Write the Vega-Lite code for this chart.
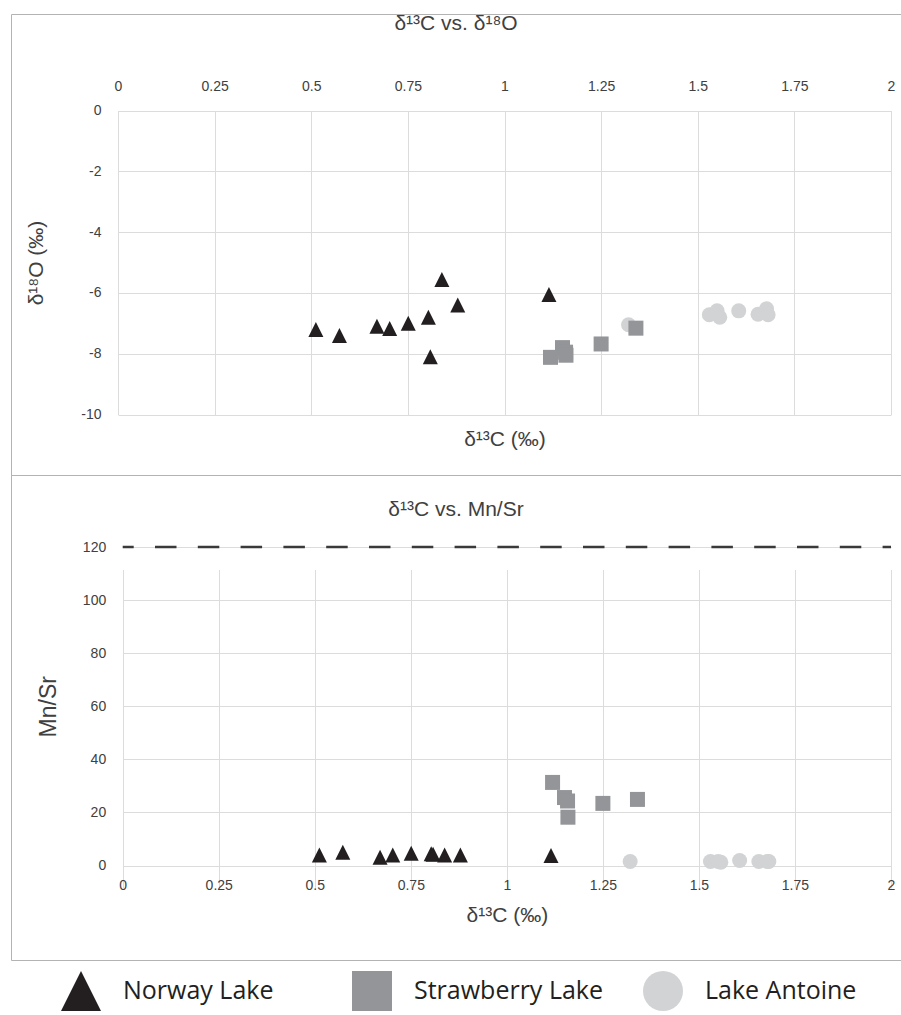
{
  "$schema": "https://vega.github.io/schema/vega-lite/v6.json",
  "padding": {"left": 10, "top": 12, "right": 0, "bottom": 4},
  "background": "white",
  "datasets": {
    "samples": [
      {"lake": "Norway Lake", "d13C": 0.512, "d18O": -7.2, "mnsr": 4.0},
      {"lake": "Norway Lake", "d13C": 0.573, "d18O": -7.4, "mnsr": 5.0},
      {"lake": "Norway Lake", "d13C": 0.670, "d18O": -7.1, "mnsr": 3.1},
      {"lake": "Norway Lake", "d13C": 0.703, "d18O": -7.17, "mnsr": 4.0},
      {"lake": "Norway Lake", "d13C": 0.751, "d18O": -7.0, "mnsr": 4.6},
      {"lake": "Norway Lake", "d13C": 0.803, "d18O": -6.8, "mnsr": 4.4},
      {"lake": "Norway Lake", "d13C": 0.808, "d18O": -8.1, "mnsr": 4.2},
      {"lake": "Norway Lake", "d13C": 0.838, "d18O": -5.56, "mnsr": 4.0},
      {"lake": "Norway Lake", "d13C": 0.879, "d18O": -6.4, "mnsr": 4.0},
      {"lake": "Norway Lake", "d13C": 1.115, "d18O": -6.05, "mnsr": 3.8},
      {"lake": "Lake Antoine", "d13C": 1.321, "d18O": -7.05, "mnsr": 1.5},
      {"lake": "Lake Antoine", "d13C": 1.530, "d18O": -6.72, "mnsr": 1.5},
      {"lake": "Lake Antoine", "d13C": 1.550, "d18O": -6.59, "mnsr": 1.5},
      {"lake": "Lake Antoine", "d13C": 1.557, "d18O": -6.80, "mnsr": 1.2},
      {"lake": "Lake Antoine", "d13C": 1.606, "d18O": -6.59, "mnsr": 1.9},
      {"lake": "Lake Antoine", "d13C": 1.656, "d18O": -6.70, "mnsr": 1.5},
      {"lake": "Lake Antoine", "d13C": 1.678, "d18O": -6.52, "mnsr": 1.5},
      {"lake": "Lake Antoine", "d13C": 1.682, "d18O": -6.72, "mnsr": 1.5},
      {"lake": "Strawberry Lake", "d13C": 1.119, "d18O": -8.12, "mnsr": 31.3},
      {"lake": "Strawberry Lake", "d13C": 1.150, "d18O": -7.8, "mnsr": 25.6},
      {"lake": "Strawberry Lake", "d13C": 1.158, "d18O": -7.95, "mnsr": 24.3},
      {"lake": "Strawberry Lake", "d13C": 1.159, "d18O": -8.05, "mnsr": 18.2},
      {"lake": "Strawberry Lake", "d13C": 1.250, "d18O": -7.68, "mnsr": 23.4},
      {"lake": "Strawberry Lake", "d13C": 1.340, "d18O": -7.16, "mnsr": 24.9}
    ],
    "limit": [{"threshold": 120, "from": 0, "to": 2}]
  },
  "vconcat": [
    {
      "width": 890,
      "height": 461,
      "data": {"name": "samples"},
      "title": {"text": "δ¹³C vs. δ¹⁸O", "offset": -31, "baseline": "middle"},
      "mark": {"type": "point", "filled": true, "opacity": 1, "size": 225, "strokeWidth": 0},
      "encoding": {
        "x": {
          "field": "d13C", "type": "quantitative",
          "scale": {"domain": [0, 2], "range": [107, 880], "nice": false, "zero": false},
          "axis": {"orient": "top", "offset": -96.5, "values": [0, 0.25, 0.5, 0.75, 1, 1.25, 1.5, 1.75, 2],
                   "labelExpr": "datum.value + ''", "labelPadding": 17,
                   "title": "δ¹³C (‰)", "titleY": 328.5, "titleBaseline": "middle"}
        },
        "y": {
          "field": "d18O", "type": "quantitative",
          "scale": {"domain": [-10, 0], "range": [400.5, 96.5], "nice": false, "zero": false},
          "axis": {"offset": -107, "values": [-10, -8, -6, -4, -2, 0],
                   "labelExpr": "datum.value + ''", "labelPadding": 17,
                   "title": "δ¹⁸O (‰)", "titlePadding": 34}
        },
        "color": {
          "field": "lake", "type": "nominal",
          "scale": {"domain": ["Norway Lake", "Strawberry Lake", "Lake Antoine"], "range": ["#231f20", "#939598", "#d1d3d4"]},
          "legend": {"orient": "none", "legendX": 50, "legendY": 957, "direction": "horizontal", "columns": 3, "title": null}
        },
        "shape": {
          "field": "lake", "type": "nominal",
          "scale": {"domain": ["Norway Lake", "Strawberry Lake", "Lake Antoine"], "range": ["M0,-1L1,1L-1,1Z", "square", "circle"]},
          "legend": {"orient": "none", "legendX": 50, "legendY": 957, "direction": "horizontal", "columns": 3, "title": null}
        }
      }
    },
    {
      "width": 890,
      "height": 485,
      "title": {"text": "δ¹³C vs. Mn/Sr", "offset": -56, "baseline": "middle"},
      "layer": [
        {
          "data": {"name": "samples"},
          "mark": {"type": "point", "filled": true, "opacity": 1, "size": 225, "strokeWidth": 0},
          "encoding": {
            "x": {
              "field": "d13C", "type": "quantitative",
              "scale": {"domain": [0, 2], "range": [111.7, 880], "nice": false, "zero": false},
              "axis": {"orient": "bottom", "offset": -94.5, "values": [0, 0.25, 0.5, 0.75, 1, 1.25, 1.5, 1.75, 2],
                       "labelExpr": "datum.value + ''", "labelPadding": 13,
                       "title": "δ¹³C (‰)", "titlePadding": 12}
            },
            "y": {
              "field": "mnsr", "type": "quantitative",
              "scale": {"domain": [0, 120], "range": [390.5, 72], "nice": false, "zero": false},
              "axis": {"offset": -111.7, "values": [0, 20, 40, 60, 80, 100, 120],
                       "labelExpr": "datum.value + ''", "labelPadding": 17,
                       "title": "Mn/Sr", "titlePadding": 22, "titleFontSize": 23}
            },
            "color": {
              "field": "lake", "type": "nominal",
              "scale": {"domain": ["Norway Lake", "Strawberry Lake", "Lake Antoine"], "range": ["#231f20", "#939598", "#d1d3d4"]},
              "legend": {"orient": "none", "legendX": 50, "legendY": 957, "direction": "horizontal", "columns": 3, "title": null}
            },
            "shape": {
              "field": "lake", "type": "nominal",
              "scale": {"domain": ["Norway Lake", "Strawberry Lake", "Lake Antoine"], "range": ["M0,-1L1,1L-1,1Z", "square", "circle"]},
              "legend": {"orient": "none", "legendX": 50, "legendY": 957, "direction": "horizontal", "columns": 3, "title": null}
            }
          }
        },
        {
          "data": {"name": "limit"},
          "mark": {"type": "rule", "color": "#3a3a3a", "strokeWidth": 2.6, "strokeDash": [21.5, 21.3], "strokeDashOffset": 10.5},
          "encoding": {
            "x": {"field": "from", "type": "quantitative", "title": "δ¹³C (‰)"},
            "x2": {"field": "to"},
            "y": {"field": "threshold", "type": "quantitative", "title": "Mn/Sr"}
          }
        }
      ]
    }
  ],
  "spacing": 0,
  "bounds": "flush",
  "config": {
    "font": "Liberation Sans",
    "view": {"stroke": "#b3b3b3", "strokeWidth": 1},
    "title": {"fontSize": 21, "fontWeight": "normal", "color": "#404040", "anchor": "middle", "frame": "group", "font": "Liberation Sans"},
    "axis": {
      "domain": false, "ticks": false,
      "grid": true, "gridColor": "#dcdcdc", "gridWidth": 1,
      "labelFont": "Liberation Sans", "labelFontSize": 14, "labelColor": "#404040",
      "labelFlush": false, "labelOverlap": false,
      "titleFont": "Liberation Sans", "titleFontSize": 21, "titleFontWeight": "normal", "titleColor": "#404040"
    },
    "legend": {
      "symbolSize": 1600, "symbolStrokeWidth": 0, "symbolOpacity": 1,
      "labelFont": "Open Sans", "labelFontSize": 25, "labelColor": "#231f20", "labelOffset": 22, "labelLimit": 400,
      "columnPadding": 39, "gridAlign": "all", "padding": 0, "rowPadding": 0
    }
  }
}
